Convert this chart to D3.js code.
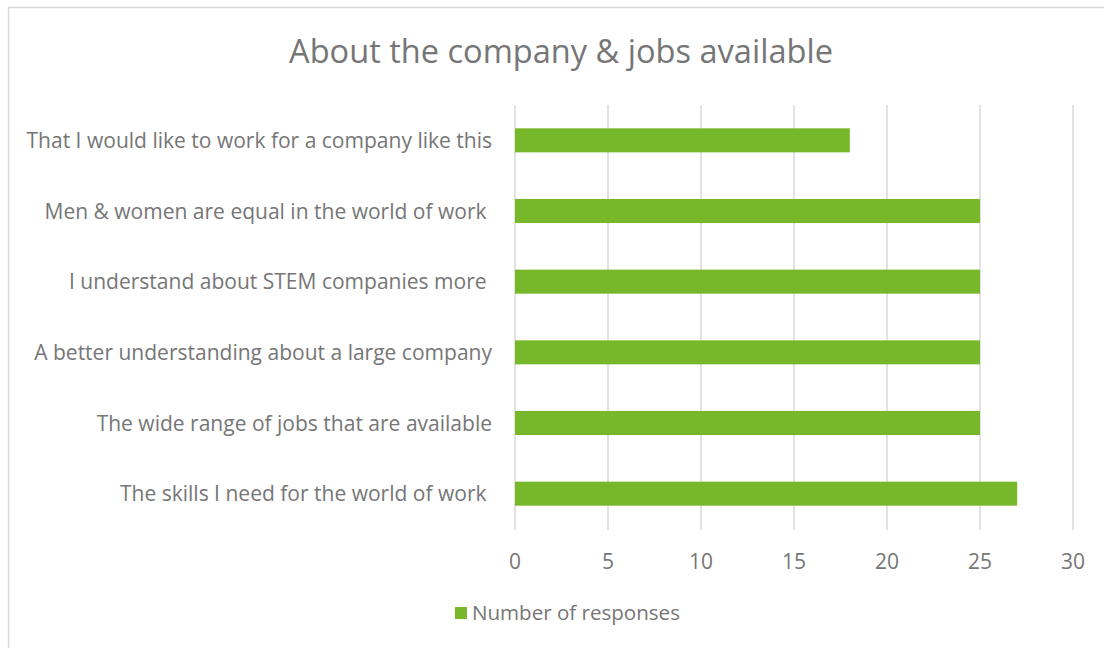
<!DOCTYPE html>
<html><head><meta charset="utf-8">
<script src="https://cdn.jsdelivr.net/npm/d3@7"></script>
<style>body{margin:0;background:#fff}svg{display:block}text{font-family:"Open Sans",sans-serif;fill:#767676}</style>
</head><body>
<svg id="c" width="1104" height="648"></svg>
<script>
const categories = [
  "That I would like to work for a company like this",
  "Men & women are equal in the world of work ",
  "I understand about STEM companies more ",
  "A better understanding about a large company",
  "The wide range of jobs that are available",
  "The skills I need for the world of work "
];
const values = [18, 25, 25, 25, 25, 27];
const xTicks = [0, 5, 10, 15, 20, 25, 30];
const seriesName = "Number of responses";
const title = "About the company & jobs available";

const svg = d3.select("#c");
svg.append("rect").attr("x", 8.5).attr("y", 7.5).attr("width", 1110).attr("height", 660)
  .attr("fill", "#fff").attr("stroke", "#d9d9d9").attr("stroke-width", 1.5);

const x = d3.scaleLinear().domain([0, 30]).range([515, 1073]);
const y = d3.scaleBand().domain(categories).range([105, 529]).paddingInner(0.66).paddingOuter(0.33);

// fit font size so that a text node spans the target width
function fit(sel, target) {
  const w = sel.node().getComputedTextLength();
  const fs = parseFloat(sel.style("font-size"));
  return fs * target / w;
}

const t = svg.append("text").attr("x", 561).attr("y", 63).attr("text-anchor", "middle")
  .style("font-size", "30px").text(title);
t.style("font-size", fit(t, 544) + "px");

svg.append("g").selectAll("line").data(xTicks).join("line")
  .attr("x1", d => x(d)).attr("x2", d => x(d)).attr("y1", 105).attr("y2", 530)
  .attr("stroke", "#d9d9d9").attr("stroke-width", 1.5);

svg.append("g").selectAll("rect").data(values).join("rect")
  .attr("x", x(0)).attr("y", (d, i) => y(categories[i]))
  .attr("width", d => x(d) - x(0)).attr("height", y.bandwidth())
  .attr("fill", "#77b82a");

const labels = svg.append("g").selectAll("text").data(categories).join("text")
  .attr("x", 492).attr("y", d => y(d) + y.bandwidth() / 2).attr("dy", "0.36em")
  .attr("text-anchor", "end").style("white-space", "pre").attr("xml:space", "preserve")
  .style("font-size", "19px").text(d => d);
const lfs = fit(d3.select(labels.nodes()[0]), 466);
labels.style("font-size", lfs + "px");

svg.append("g").selectAll("text").data(xTicks).join("text")
  .attr("x", d => x(d)).attr("y", 561).attr("dy", "0.36em").attr("text-anchor", "middle")
  .style("font-size", lfs + "px").text(d => d);

svg.append("rect").attr("x", 455).attr("y", 607).attr("width", 12).attr("height", 12).attr("fill", "#77b82a");
const lg = svg.append("text").attr("x", 472).attr("y", 613).attr("dy", "0.36em").style("font-size", "19px").text(seriesName);
lg.style("font-size", fit(lg, 208) + "px");
</script>
</body></html>
